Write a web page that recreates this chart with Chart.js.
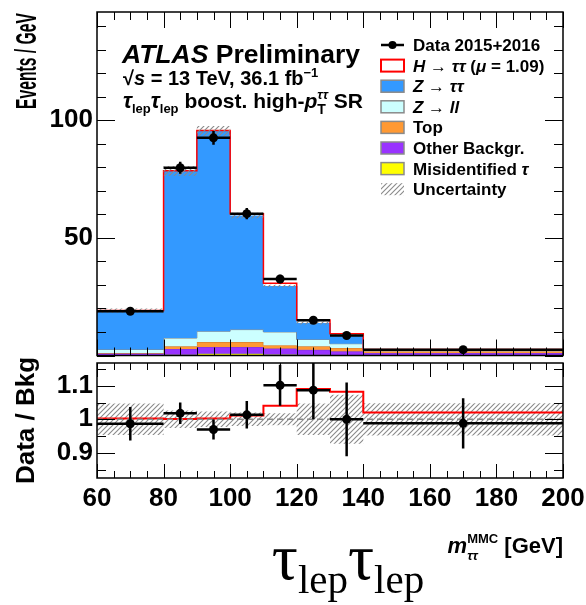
<!DOCTYPE html>
<html>
<head>
<meta charset="utf-8">
<script src="https://cdn.jsdelivr.net/npm/chart.js@4.4.1/dist/chart.umd.min.js"></script>
<style>
  body { margin: 0; background: #fff; }
  #wrap { position: relative; width: 586px; height: 605px; }
  canvas { position: absolute; left: 0; }
  #main { top: 0; }
  #ratio { top: 358px; }
</style>
</head>
<body>
<div id="wrap">
  <canvas id="main" width="586" height="360"></canvas>
  <canvas id="ratio" width="586" height="247"></canvas>
</div>
<script>
// binning in m_tautau (GeV)
const binEdges = [60, 80, 90, 100, 110, 120, 130, 140, 200];

// events / GeV
const dataVals = [18.8, 79.8, 92.5, 60.3, 32.5, 15.0, 8.5, 2.47];
const dataErr  = [0.95, 2.5, 2.9, 2.4, 1.8, 1.2, 0.9, 0.19];
const misid    = [0.05, 0.4, 0.8, 0.8, 0.5, 0.3, 0.1, 0.05];
const other    = [0.9, 2.4, 2.8, 2.8, 2.5, 2.1, 1.7, 1.0];
const topBkg   = [0.1, 1.1, 2.1, 2.1, 1.4, 1.5, 1.4, 0.8];
const zll      = [1.5, 3.5, 4.6, 5.3, 5.6, 2.9, 1.8, 0.2];
const ztt      = [16.5, 71.0, 85.1, 48.5, 19.5, 7.0, 3.5, 0.45];
const higgs    = [0.05, 0.1, 0.2, 0.7, 1.2, 1.25, 0.7, 0.05];

// relative background uncertainty and data/bkg errors
const bkgRelErr = [0.047, 0.026, 0.023, 0.02, 0.018, 0.047, 0.073, 0.048];
const ratioErr  = [0.05, 0.032, 0.03, 0.041, 0.061, 0.087, 0.11, 0.075];

const xTicks = [60, 80, 100, 120, 140, 160, 180, 200];
const yTicksMain = [50, 100];
const yTicksRatio = [0.9, 1, 1.1];

const SANS = '"Liberation Sans", Arial, Helvetica, sans-serif';
const SERIF = '"Liberation Serif", "DejaVu Serif", serif';
const B = s => `bold ${s}px ${SANS}`;
const BI = s => `italic bold ${s}px ${SANS}`;

const sumArrays = (...arrs) => arrs[0].map((_, i) => arrs.reduce((s, a) => s + a[i], 0));
const cOther = sumArrays(misid, other);
const cTop = sumArrays(cOther, topBkg);
const cZll = sumArrays(cTop, zll);
const bkg = sumArrays(cZll, ztt);
const total = sumArrays(bkg, higgs);
const bkgLo = bkg.map((b, i) => b * (1 - bkgRelErr[i]));
const bkgHi = bkg.map((b, i) => b * (1 + bkgRelErr[i]));
const binCenters = binEdges.slice(0, -1).map((e, i) => (e + binEdges[i + 1]) / 2);
const ratioData = dataVals.map((d, i) => d / bkg[i]);
const ratioSig = total.map((t, i) => t / bkg[i]);

function steps(vals) {
  const pts = [];
  vals.forEach((v, i) => {
    pts.push({ x: binEdges[i], y: v });
    pts.push({ x: binEdges[i + 1], y: v });
  });
  return pts;
}

function makeHatch() {
  const c = document.createElement('canvas');
  c.width = 5; c.height = 5;
  const g = c.getContext('2d');
  g.strokeStyle = '#8a8a8a';
  g.lineWidth = 1.1;
  g.beginPath();
  g.moveTo(0, 5); g.lineTo(5, 0);
  g.moveTo(-1, 1); g.lineTo(1, -1);
  g.moveTo(4, 6); g.lineTo(6, 4);
  g.stroke();
  return g.createPattern(c, 'repeat');
}
const hatch = makeHatch();

function hist(label, vals, fillColor, lineColor, fill, order, width) {
  return {
    label, data: steps(vals), backgroundColor: fillColor, borderColor: lineColor,
    borderWidth: width === undefined ? 1 : width, fill, order, pointRadius: 0, tension: 0
  };
}

// text with mixed fonts; part = [text, font, dy, noAdvance]
function richText(ctx, x, y, parts, align) {
  let w = 0;
  parts.forEach(p => { ctx.font = p[1]; if (!p[3]) w += ctx.measureText(p[0]).width; });
  let cx = align === 'right' ? x - w : align === 'center' ? x - w / 2 : x;
  parts.forEach(p => {
    ctx.font = p[1];
    ctx.fillText(p[0], cx, y + (p[2] || 0));
    if (!p[3]) cx += ctx.measureText(p[0]).width;
  });
}

// frame + inward ticks on all four sides
function frameTicks(cfg) {
  return {
    id: 'frameTicks',
    afterDatasetsDraw(chart) {
      const { ctx, chartArea: a, scales: { x, y } } = chart;
      ctx.save();
      ctx.strokeStyle = '#000';
      ctx.lineWidth = 1;
      ctx.beginPath();
      for (let n = Math.ceil(x.min / cfg.xStep); n * cfg.xStep <= x.max; n++) {
        const px = Math.round(x.getPixelForValue(n * cfg.xStep)) + 0.5;
        const len = n % cfg.xEvery === 0 ? cfg.xLen[0] : cfg.xLen[1];
        ctx.moveTo(px, a.bottom); ctx.lineTo(px, a.bottom - len);
        ctx.moveTo(px, a.top); ctx.lineTo(px, a.top + len);
      }
      for (let n = Math.ceil(y.min / cfg.yStep - 1e-9); n * cfg.yStep <= y.max + 1e-9; n++) {
        const py = Math.round(y.getPixelForValue(n * cfg.yStep)) + 0.5;
        const len = n % cfg.yEvery === 0 ? cfg.yLen[0] : cfg.yLen[1];
        ctx.moveTo(a.left, py); ctx.lineTo(a.left + len, py);
        ctx.moveTo(a.right, py); ctx.lineTo(a.right - len, py);
      }
      ctx.stroke();
      ctx.lineWidth = 1.5;
      ctx.strokeRect(a.left, a.top, a.right - a.left, a.bottom - a.top);
      ctx.restore();
    }
  };
}

// data points: bin-width bars and vertical errors
function errorBars(vals, errs) {
  return {
    id: 'errorBars',
    afterDatasetsDraw(chart) {
      const { ctx, chartArea: a, scales: { x, y } } = chart;
      ctx.save();
      ctx.beginPath();
      ctx.rect(a.left, a.top, a.right - a.left, a.bottom - a.top);
      ctx.clip();
      ctx.strokeStyle = '#000';
      ctx.lineWidth = 2.5;
      ctx.beginPath();
      vals.forEach((v, i) => {
        const py = y.getPixelForValue(v);
        ctx.moveTo(x.getPixelForValue(binEdges[i]), py);
        ctx.lineTo(x.getPixelForValue(binEdges[i + 1]), py);
        const px = x.getPixelForValue(binCenters[i]);
        ctx.moveTo(px, y.getPixelForValue(v - errs[i]));
        ctx.lineTo(px, y.getPixelForValue(v + errs[i]));
      });
      ctx.stroke();
      ctx.restore();
    }
  };
}

// rotated axis title, squeezed along the text to a given length
function squeezedTitle(ctx, text, x, yTop, len, font) {
  ctx.save();
  ctx.font = font;
  const w = ctx.measureText(text).width;
  ctx.translate(x, yTop);
  ctx.rotate(-Math.PI / 2);
  ctx.scale(Math.min(1, len / w), 1);
  ctx.textAlign = 'right';
  ctx.textBaseline = 'middle';
  ctx.fillText(text, 0, 0);
  ctx.restore();
}

const legendRows = [
  { kind: 'data', text: [['Data 2015+2016', B(17)]] },
  { kind: 'box', fill: '#ffffff', line: '#ff0000', lw: 2,
    text: [['H', BI(17)], [' \u2192 ', B(17)], ['\u03c4\u03c4', BI(17)], [' (', B(17)], ['\u03bc', BI(17)], [' = 1.09)', B(17)]] },
  { kind: 'box', fill: '#3399ff', line: '#8a8a8a', lw: 1.5, text: [['Z', BI(17)], [' \u2192 ', B(17)], ['\u03c4\u03c4', BI(17)]] },
  { kind: 'box', fill: '#ccffff', line: '#8a8a8a', lw: 1.5, text: [['Z', BI(17)], [' \u2192 ', B(17)], ['ll', BI(17)]] },
  { kind: 'box', fill: '#ff9933', line: '#8a8a8a', lw: 1.5, text: [['Top', B(17)]] },
  { kind: 'box', fill: '#9933ff', line: '#8a8a8a', lw: 1.5, text: [['Other Backgr.', B(17)]] },
  { kind: 'box', fill: '#ffff00', line: '#8a8a8a', lw: 1.5, text: [['Misidentified ', B(17)], ['\u03c4', BI(17)]] },
  { kind: 'hatch', text: [['Uncertainty', B(17)]] }
];

const labelsPlugin = {
  id: 'labels',
  afterDraw(chart) {
    const ctx = chart.ctx;
    ctx.save();
    ctx.fillStyle = '#000';
    squeezedTitle(ctx, 'Events / GeV', 28, 13, 96, B(29));
    ctx.textBaseline = 'alphabetic';
    richText(ctx, 122, 63, [['ATLAS', BI(26.5)], [' Preliminary', B(26.5)]]);
    richText(ctx, 123, 85, [['\u221a', B(20)], ['s', BI(20)], [' = 13 TeV, 36.1 fb', B(20)], ['\u22121', B(13), -8]]);
    richText(ctx, 123, 108, [
      ['\u03c4', BI(22)], ['lep', B(13), 5], ['\u03c4', BI(22)], ['lep', B(13), 5],
      [' boost. high-', B(21)], ['p', BI(21)], ['T', B(14), 6, true], ['\u03c4\u03c4', BI(13), -9], [' SR', B(21)]
    ]);

    // legend
    const bx = 381, bw = 23, bh = 12, tx = 413;
    legendRows.forEach((r, i) => {
      const cy = 45 + i * 20.6;
      if (r.kind === 'data') {
        ctx.strokeStyle = '#000'; ctx.lineWidth = 2.5;
        ctx.beginPath(); ctx.moveTo(bx, cy); ctx.lineTo(bx + bw, cy); ctx.stroke();
        ctx.beginPath(); ctx.arc(bx + bw / 2, cy, 4, 0, Math.PI * 2); ctx.fill();
      } else if (r.kind === 'box') {
        ctx.fillStyle = r.fill;
        ctx.fillRect(bx, cy - bh / 2, bw, bh);
        ctx.strokeStyle = r.line; ctx.lineWidth = r.lw;
        ctx.strokeRect(bx, cy - bh / 2, bw, bh);
      } else {
        ctx.fillStyle = hatch;
        ctx.fillRect(bx, cy - bh / 2, bw, bh);
      }
      ctx.fillStyle = '#000';
      richText(ctx, tx, cy + 6, r.text);
    });
    ctx.restore();
  }
};

const axisFont = { family: SANS, size: 26, weight: 'bold' };

new Chart(document.getElementById('main'), {
  type: 'line',
  data: {
    datasets: [
      hist('Misidentified tau', misid, '#ffff00', '#8a8a8a', 'origin', 7),
      hist('Other Backgr.', cOther, '#9933ff', '#7a3acc', '-1', 6),
      hist('Top', cTop, '#ff9933', '#cc7a33', '-1', 5),
      hist('Z->ll', cZll, '#ccffff', '#8a8a8a', '-1', 4),
      hist('Z->tautau', bkg, '#3399ff', '#3399ff', '-1', 3),
      hist('H->tautau', total, '#ffffff', '#ff0000', '-1', 2, 1.5),
      hist('Unc. low', bkgLo, 'rgba(0,0,0,0)', 'rgba(0,0,0,0)', false, 1, 0),
      hist('Uncertainty', bkgHi, hatch, 'rgba(0,0,0,0)', '-1', 1, 0),
      {
        label: 'Data 2015+2016', order: 0, showLine: false,
        data: binCenters.map((c, i) => ({ x: c, y: dataVals[i] })),
        pointRadius: 4.5, pointBackgroundColor: '#000', pointBorderWidth: 0
      }
    ]
  },
  options: {
    responsive: false, animation: false, devicePixelRatio: 1, events: [],
    layout: { padding: { left: 0, right: 23, top: 12, bottom: 4 } },
    plugins: { legend: { display: false }, tooltip: { enabled: false } },
    scales: {
      x: { type: 'linear', min: 60, max: 200, display: false },
      y: {
        type: 'linear', min: 0, max: 146,
        afterFit(s) { s.width = 97; s.paddingTop = 0; s.paddingBottom = 0; },
        afterBuildTicks(s) { s.ticks = yTicksMain.map(v => ({ value: v })); },
        grid: { display: false, drawTicks: false }, border: { display: false },
        ticks: { font: axisFont, color: '#000', padding: 4, autoSkip: false }
      }
    }
  },
  plugins: [
    frameTicks({ xStep: 5, xEvery: 4, xLen: [16, 8], yStep: 10, yEvery: 5, yLen: [18, 9] }),
    errorBars(dataVals, dataErr),
    labelsPlugin
  ]
});

const ratioLabels = {
  id: 'ratioLabels',
  afterDraw(chart) {
    const ctx = chart.ctx;
    const a = chart.chartArea;
    ctx.save();
    ctx.fillStyle = '#000';
    ctx.textBaseline = 'alphabetic';
    richText(ctx, a.right, 195, [
      ['m', BI(22)], ['\u03c4\u03c4', BI(13), 7, true], ['MMC', B(13), -10], [' [GeV]', B(22)]
    ], 'right');
    richText(ctx, 348, 221, [
      ['\u03c4', `65px ${SERIF}`], ['lep', `41px ${SERIF}`, 14],
      ['\u03c4', `65px ${SERIF}`], ['lep', `41px ${SERIF}`, 14]
    ], 'center');
    ctx.restore();
  }
};

new Chart(document.getElementById('ratio'), {
  type: 'line',
  data: {
    datasets: [
      hist('Unc. low', bkgRelErr.map(e => 1 - e), 'rgba(0,0,0,0)', 'rgba(0,0,0,0)', false, 3, 0),
      hist('Uncertainty', bkgRelErr.map(e => 1 + e), hatch, 'rgba(0,0,0,0)', '-1', 3, 0),
      {
        // dashed unity line sits over the red step where they coincide
        label: 'Unity', data: [{ x: 60, y: 1 }, { x: 200, y: 1 }], borderColor: '#8a8a8a',
        borderWidth: 1.5, borderDash: [6, 4], pointRadius: 0, fill: false, order: 1
      },
      hist('(Bkg+H)/Bkg', ratioSig, 'rgba(0,0,0,0)', '#ff0000', false, 2, 2),
      {
        label: 'Data/Bkg', order: 0, showLine: false,
        data: binCenters.map((c, i) => ({ x: c, y: ratioData[i] })),
        pointRadius: 4.5, pointBackgroundColor: '#000', pointBorderWidth: 0
      }
    ]
  },
  options: {
    responsive: false, animation: false, devicePixelRatio: 1, events: [],
    layout: { padding: { left: 0, right: 23, top: 5, bottom: 0 } },
    plugins: { legend: { display: false }, tooltip: { enabled: false } },
    scales: {
      x: {
        type: 'linear', min: 60, max: 200, position: 'bottom',
        afterFit(s) { s.height = 127; s.paddingLeft = 0; s.paddingRight = 0; },
        afterBuildTicks(s) { s.ticks = xTicks.map(v => ({ value: v })); },
        grid: { display: false, drawTicks: false }, border: { display: false },
        ticks: { font: axisFont, color: '#000', padding: 5, autoSkip: false, maxRotation: 0 }
      },
      y: {
        type: 'linear', min: 0.825, max: 1.168,
        afterFit(s) { s.width = 97; s.paddingTop = 0; s.paddingBottom = 0; },
        afterBuildTicks(s) { s.ticks = yTicksRatio.map(v => ({ value: v })); },
        grid: { display: false, drawTicks: false }, border: { display: false },
        ticks: { font: axisFont, color: '#000', padding: 4, autoSkip: false,
          callback: v => (Math.abs(v - 1) < 1e-9 ? '1' : v.toFixed(1)) },
        title: { display: true, text: 'Data / Bkg', align: 'center', color: '#000', font: axisFont, padding: { top: 11, bottom: 0 } }
      }
    }
  },
  plugins: [
    frameTicks({ xStep: 5, xEvery: 4, xLen: [14, 7], yStep: 0.05, yEvery: 2, yLen: [18, 9] }),
    errorBars(ratioData, ratioErr),
    ratioLabels
  ]
});
</script>
</body>
</html>
